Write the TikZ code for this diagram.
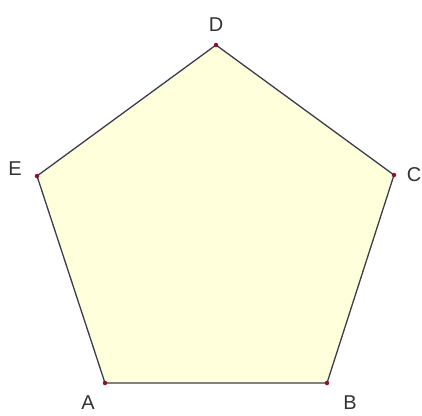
\documentclass[tikz,border=0pt]{standalone}
\usepackage{fontspec}
\setmainfont{Liberation Sans}
\usepackage{xcolor}
\usepackage{tikz}
\definecolor{PentaFill}{HTML}{FFFFDC}
\definecolor{PentaEdge}{HTML}{3C3C50}
\definecolor{PointRed}{HTML}{8C1030}

\begin{document}
\begin{tikzpicture}[
    x=1pt, y=-1pt,
    vlabel/.style={inner sep=0pt, font=\fontsize{20}{24}\selectfont, text=black!80},
    vdot/.style={fill=PointRed, circle, inner sep=0pt, minimum size=4.5pt}
  ]
    \useasboundingbox (0,0) rectangle (422,415);

    % vertices
    \coordinate (A) at (105,383);
    \coordinate (B) at (327,383);
    \coordinate (C) at (394,175);
    \coordinate (D) at (216,45);
    \coordinate (E) at (37,176);

    \filldraw[fill=PentaFill, draw=PentaEdge, line width=1.3pt, line join=miter]
      (A) -- (B) -- (C) -- (D) -- (E) -- cycle;

    \foreach \v in {A,B,C,D,E}
      \node[vdot] (dot\v) at (\v) {};

    % labels
    \node[vlabel] (labA) at (88,403) {A};
    \node[vlabel] (labB) at (350,403) {B};
    \node[vlabel] (labC) at (414,175) {C};
    \node[vlabel] (labD) at (216,25) {D};
    \node[vlabel] (labE) at (15,169) {E};
  \end{tikzpicture}
\end{document}
